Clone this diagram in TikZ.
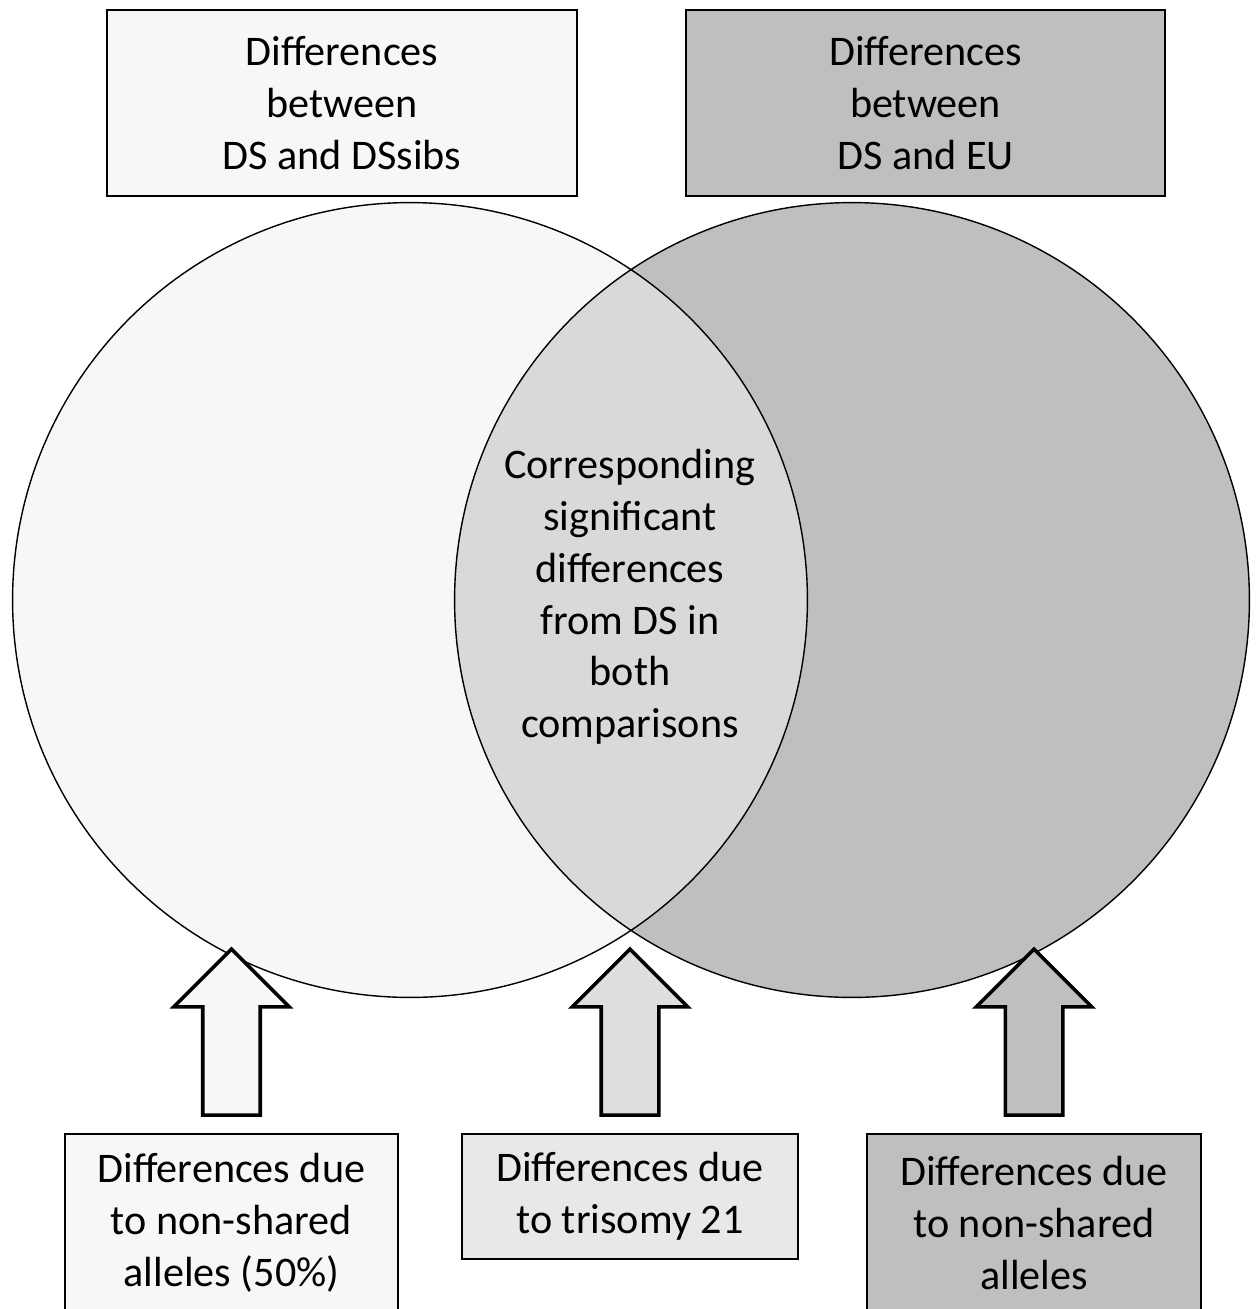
\documentclass[tikz,border=0pt]{standalone}
\usepackage{fontspec}
\setmainfont{Carlito}
\usetikzlibrary{positioning,shapes.arrows}
\definecolor{sibsgray}{RGB}{247,247,247}
\definecolor{eugray}{RGB}{191,191,191}
\definecolor{bothgray}{RGB}{217,217,217}
\definecolor{trigray}{RGB}{232,232,232}
\definecolor{triarrow}{RGB}{222,222,222}

\tikzset{
  venn/.style={circle,minimum size=15.9cm,inner sep=0pt},
  vennline/.style={line width=0.8pt},
  labelbox/.style={draw,line width=1.3pt,align=center,inner sep=0pt,
    font=\fontsize{24}{29.5}\selectfont},
  uparrow/.style={single arrow,draw,line width=2pt,rotate=90,anchor=tail,
    minimum height=3.32cm,inner xsep=0pt,inner ysep=0.54cm,single arrow head extend=0.58cm}
}

\begin{document}
\begin{tikzpicture}[x=0.02cm,y=-0.02cm]
\useasboundingbox (0,0) rectangle (1259,1309);
% the two sets
\node[venn,fill=sibsgray] (setA) at (410,600) {};
\node[venn,fill=eugray] (setB) at (852,600) {};
\begin{scope}
\clip (setA.center) circle (7.95cm);
\fill[bothgray] (setB.center) circle (7.95cm);
\end{scope}
\draw[vennline] (setA.center) circle (7.95cm) (setB.center) circle (7.95cm);
\node[font=\fontsize{24}{29.5}\selectfont,align=center] (both) at (630,597)
  {Corresponding\\significant\\differences\\from DS in\\both\\comparisons};

% comparisons
\node[labelbox,fill=sibsgray,minimum width=9.4cm,minimum height=3.72cm] (cmpA) at (342,103)
  {Differences\\between\\DS and DSsibs};
\node[labelbox,fill=eugray,minimum width=9.58cm,minimum height=3.72cm] (cmpB) at (925.5,103)
  {Differences\\between\\DS and EU};

% causes
\node[labelbox,fill=sibsgray,minimum width=6.66cm,minimum height=3.56cm] (causeA) at (231.5,1223)
  {Differences due\\to non-shared\\alleles (50\%)};
\node[labelbox,fill=trigray,minimum width=6.72cm,minimum height=2.5cm] (causeT) at (630,1196.5)
  {Differences due\\to trisomy 21};
\node[labelbox,fill=eugray,minimum width=6.68cm,minimum height=3.56cm] (causeB) at (1034,1223)
  {Differences due\\to non-shared\\alleles};

\node[uparrow,fill=sibsgray] (upA) at ([yshift=0.32cm]causeA.north) {};
\node[uparrow,fill=triarrow] (upT) at ([yshift=0.32cm]causeT.north) {};
\node[uparrow,fill=eugray] (upB) at ([yshift=0.32cm]causeB.north) {};
\end{tikzpicture}
\end{document}
